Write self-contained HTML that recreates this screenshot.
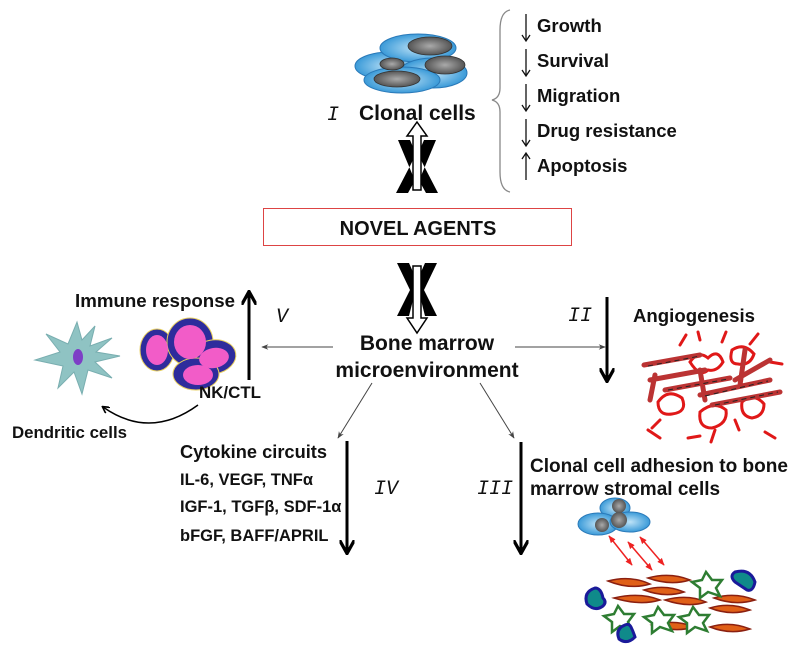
<!DOCTYPE html>
<html><head><meta charset="utf-8"><style>
body{margin:0;background:#fff}
svg{display:block}
text{font-family:"Liberation Sans",Arial,sans-serif;font-weight:bold;fill:#111}
.it{font-family:"Liberation Mono",monospace;font-style:italic;font-weight:normal;font-size:20px}
</style></head><body>
<svg width="800" height="647" viewBox="0 0 800 647" xmlns="http://www.w3.org/2000/svg">
<defs>
<marker id="ah" viewBox="0 0 10 10" refX="9" refY="5" markerWidth="7" markerHeight="7" orient="auto-start-reverse"><path d="M0,1 L10,5 L0,9 L3,5z" fill="#444"/></marker>
<marker id="tk" viewBox="0 0 10 10" refX="8" refY="5" markerWidth="5" markerHeight="5" orient="auto"><path d="M0,0 L9,5 L0,10" fill="none" stroke="#000" stroke-width="2.2"/></marker>
<marker id="rd" viewBox="0 0 10 10" refX="9" refY="5" markerWidth="5" markerHeight="5" orient="auto-start-reverse"><path d="M0,1 L10,5 L0,9z" fill="#e22"/></marker>
<radialGradient id="bl"><stop offset="0" stop-color="#bfe3f7"/><stop offset="1" stop-color="#3a9ad8"/></radialGradient>
<radialGradient id="gr"><stop offset="0" stop-color="#aaa"/><stop offset="1" stop-color="#555"/></radialGradient>
</defs>
<!-- clonal cells top -->
<g stroke="#2a79b8" stroke-width="1">
<ellipse cx="390" cy="66" rx="35" ry="14" fill="url(#bl)"/>
<ellipse cx="418" cy="48" rx="38" ry="14" fill="url(#bl)"/>
<ellipse cx="433" cy="73" rx="34" ry="15" fill="url(#bl)"/>
<ellipse cx="402" cy="80" rx="38" ry="13" fill="url(#bl)"/>
</g>
<g fill="url(#gr)" stroke="#333" stroke-width=".8">
<ellipse cx="430" cy="46" rx="22" ry="9"/><ellipse cx="445" cy="65" rx="20" ry="9"/>
<ellipse cx="397" cy="79" rx="23" ry="8"/><ellipse cx="392" cy="64" rx="12" ry="6"/>
</g>
<text x="327" y="120" class="it">I</text>
<text x="359" y="120" font-size="21">Clonal cells</text>
<!-- brace -->
<path d="M510,10 Q500,12 500,30 L500,88 Q500,98 492,100 Q500,102 500,112 L500,172 Q500,190 510,192" fill="none" stroke="#888" stroke-width="1.3"/>
<g font-size="18.5">
<text x="537" y="32">Growth</text><text x="537" y="67">Survival</text><text x="537" y="102">Migration</text><text x="537" y="137">Drug resistance</text><text x="537" y="172">Apoptosis</text>
</g>
<g stroke="#111" stroke-width="1.3" fill="none">
<path d="M526,14 V40 M522,35 L526,41 L530,35"/>
<path d="M526,49 V75 M522,70 L526,76 L530,70"/>
<path d="M526,84 V110 M522,105 L526,111 L530,105"/>
<path d="M526,119 V145 M522,140 L526,146 L530,140"/>
<path d="M526,180 V154 M522,159 L526,153 L530,159"/>
</g>
<!-- top open arrow & X -->
<path d="M417,122 L427,136 L421,136 L421,190 L413,190 L413,136 L407,136z" fill="#fff" stroke="#000" stroke-width="1.5"/>
<path d="M398,140 L410,140 L413,147 L413,160 L410,166 L396,193 L408,193 L413,184 L413,176z" fill="#000"/>
<path d="M436,140 L424,140 L421,147 L421,160 L424,166 L438,193 L426,193 L421,184 L421,176z" fill="#000"/>
<!-- box -->
<rect x="263.5" y="208.5" width="308" height="37" fill="#fff" stroke="#d44" stroke-width="1"/>
<text x="418" y="235" font-size="20" text-anchor="middle">NOVEL AGENTS</text>
<!-- bottom X & open arrow -->
<path d="M413,266 L421,266 L421,318 L427,318 L417,333 L407,318 L413,318z" fill="#fff" stroke="#000" stroke-width="1.5"/>
<path d="M397,263 L409,263 L413,272 L413,300 L409,316 L397,316 L410,290z" fill="#000"/>
<path d="M437,263 L425,263 L421,272 L421,300 L425,316 L437,316 L424,290z" fill="#000"/>
<text x="427" y="350" font-size="21" text-anchor="middle">Bone marrow</text>
<text x="427" y="377" font-size="21" text-anchor="middle">microenvironment</text>
<!-- thin connectors -->
<g stroke="#444" stroke-width="1" fill="none">
<line x1="333" y1="347" x2="262" y2="347" marker-end="url(#ah)"/>
<line x1="515" y1="347" x2="605" y2="347" marker-end="url(#ah)"/>
<line x1="372" y1="383" x2="338" y2="438" marker-end="url(#ah)"/>
<line x1="480" y1="383" x2="514" y2="438" marker-end="url(#ah)"/>
</g>
<!-- V -->
<text x="75" y="307" font-size="18.5" textLength="160" lengthAdjust="spacingAndGlyphs">Immune response</text>
<line x1="249" y1="380" x2="249" y2="293" stroke="#000" stroke-width="3" marker-end="url(#tk)"/>
<text x="276" y="322" class="it">V</text>
<g stroke="#e8d060" stroke-width="1">
<ellipse cx="157" cy="350" rx="17" ry="21" fill="#2e2c9c"/>
<ellipse cx="190" cy="342" rx="23" ry="24" fill="#2e2c9c"/>
<ellipse cx="213" cy="357" rx="23" ry="17" transform="rotate(-10 213 357)" fill="#2e2c9c"/>
<ellipse cx="196" cy="374" rx="23" ry="16" fill="#2e2c9c"/>
</g>
<g fill="#f25cc8"><ellipse cx="157" cy="350" rx="11" ry="15"/><ellipse cx="190" cy="342" rx="16" ry="17"/><ellipse cx="214" cy="358" rx="15" ry="10" transform="rotate(-10 214 358)"/><ellipse cx="198" cy="375" rx="15" ry="10"/></g>
<text x="199" y="398" font-size="16.5" textLength="62" lengthAdjust="spacingAndGlyphs">NK/CTL</text>
<polygon points="77,322 82,340 95,326 90,346 112,338 96,352 120,356 95,362 112,378 88,370 82,394 74,372 58,388 63,366 35,360 60,352 46,334 68,344" fill="#8fc3c3" stroke="#79aeb0" stroke-width="1"/>
<ellipse cx="78" cy="357" rx="5" ry="8" fill="#7d3ec6"/>
<path d="M198,405 Q150,440 103,407" fill="none" stroke="#000" stroke-width="1.5" marker-end="url(#tk)"/>
<text x="12" y="438" font-size="17" textLength="115" lengthAdjust="spacingAndGlyphs">Dendritic cells</text>
<!-- II -->
<text x="568" y="321" class="it">II</text>
<line x1="607" y1="297" x2="607" y2="380" stroke="#000" stroke-width="3" marker-end="url(#tk)"/>
<text x="633" y="322" font-size="18.5" textLength="122" lengthAdjust="spacingAndGlyphs">Angiogenesis</text>
<g stroke="#e01818" stroke-width="3" fill="none" stroke-linecap="round">
<path d="M690,362 q8,-12 18,-4 q10,-10 15,4 q-6,10 -15,8 q-8,8 -18,-8z"/>
<path d="M732,350 q12,-8 22,4 q-4,12 -16,10 q-10,0 -6,-14z"/>
<path d="M658,402 q10,-14 24,-4 q6,14 -10,16 q-14,2 -14,-12z"/>
<path d="M700,412 q14,-12 26,-2 q2,14 -14,18 q-14,0 -12,-16z"/>
<path d="M742,402 q12,-10 22,2 q0,12 -12,14 q-12,-2 -10,-16z"/>
<path d="M680,345 l6,-10 M700,340 l-2,-8 M722,342 l4,-10 M750,344 l8,-10 M770,362 l12,2 M648,430 l12,8 M765,432 l10,6 M688,438 l12,-2 M715,430 l-4,12 M735,420 l4,10 M660,420 l-8,8"/>
</g>
<g stroke="#b33" stroke-width="5" fill="none" stroke-linecap="round">
<path d="M644,365 L700,355 M650,380 L705,370 M665,390 L730,378 M700,395 L770,380 M712,405 L780,392 M735,380 L770,360 M740,385 L745,350 M655,375 L650,400 M700,370 L705,400"/>
</g>
<g stroke="#222" stroke-width="1" stroke-dasharray="5 4"><path d="M648,366 L700,356 M668,390 L728,379 M705,396 L768,381 M715,405 L778,392"/></g>
<!-- IV -->
<text x="180" y="458" font-size="18.5" textLength="147" lengthAdjust="spacingAndGlyphs">Cytokine circuits</text>
<g font-size="16.5"><text x="180" y="485">IL-6, VEGF, TNFα</text><text x="180" y="512">IGF-1, TGFβ, SDF-1α</text><text x="180" y="541">bFGF, BAFF/APRIL</text></g>
<line x1="347" y1="441" x2="347" y2="552" stroke="#000" stroke-width="3" marker-end="url(#tk)"/>
<text x="374" y="494" class="it">IV</text>
<!-- III -->
<text x="477" y="494" class="it">III</text>
<line x1="521" y1="442" x2="521" y2="552" stroke="#000" stroke-width="3" marker-end="url(#tk)"/>
<text x="530" y="472" font-size="19" textLength="258" lengthAdjust="spacingAndGlyphs">Clonal cell adhesion to bone</text>
<text x="530" y="495" font-size="19">marrow stromal cells</text>
<g stroke="#2a79b8" stroke-width="1" fill="url(#bl)">
<ellipse cx="615" cy="508" rx="15" ry="10"/><ellipse cx="598" cy="524" rx="20" ry="11"/><ellipse cx="630" cy="522" rx="20" ry="10"/>
</g>
<g fill="url(#gr)"><circle cx="619" cy="506" r="7"/><circle cx="602" cy="525" r="7"/><circle cx="619" cy="520" r="8"/></g>
<g stroke="#e22" stroke-width="1.5">
<line x1="609" y1="536" x2="632" y2="565" marker-start="url(#rd)" marker-end="url(#rd)"/>
<line x1="628" y1="542" x2="652" y2="570" marker-start="url(#rd)" marker-end="url(#rd)"/>
<line x1="640" y1="537" x2="664" y2="565" marker-start="url(#rd)" marker-end="url(#rd)"/>
</g>
<g fill="#e06018" stroke="#8b2010" stroke-width="1.5">
<path d="M608,581 Q630,575 650,584 Q630,590 608,581z"/>
<path d="M648,578 Q670,572 690,580 Q670,586 648,578z"/>
<path d="M644,590 Q665,584 684,592 Q665,598 644,590z"/>
<path d="M614,598 Q640,592 660,600 Q640,606 614,598z"/>
<path d="M665,600 Q688,594 706,602 Q688,608 665,600z"/>
<path d="M714,598 Q735,592 755,600 Q735,606 714,598z"/>
<path d="M710,608 Q730,602 750,610 Q730,616 710,608z"/>
<path d="M652,625 Q675,619 694,627 Q675,633 652,625z"/>
<path d="M710,627 Q730,621 750,629 Q730,635 710,627z"/>
</g>
<g fill="#fff" stroke="#2e7d32" stroke-width="2.5">
<polygon points="706,572 712,580 722,580 716,588 720,596 708,592 700,598 700,588 692,582 702,580"/>
<polygon points="618,606 624,614 634,614 628,622 632,630 620,626 612,632 612,622 604,616 614,614"/>
<polygon points="658,607 664,615 674,615 668,623 672,631 660,627 652,633 652,623 644,617 654,615"/>
<polygon points="693,607 699,615 709,615 703,623 707,631 695,627 687,633 687,623 679,617 689,615"/>
</g>
<g fill="#0f8a8a" stroke="#1a1a9a" stroke-width="3">
<path d="M735,572 q15,-4 20,10 q-2,10 -8,8 q-6,-4 -12,-8 q-6,-6 0,-10z"/>
<path d="M595,588 q-12,4 -8,16 q8,8 16,2 q4,-4 0,-8 q-2,-10 -8,-10z"/>
<path d="M625,625 q-10,4 -6,14 q8,6 16,-2 q-2,-6 -4,-10 q-2,-4 -6,-2z"/>
</g>
</svg>
</body></html>
